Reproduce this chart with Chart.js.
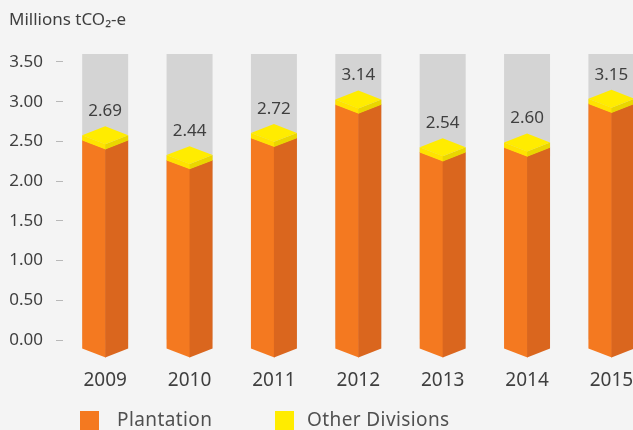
<!DOCTYPE html>
<html>
<head>
<meta charset="utf-8">
<script src="https://cdn.jsdelivr.net/npm/chart.js@4.4.0/dist/chart.umd.min.js"></script>
<style>
  html, body { margin: 0; padding: 0; background: #F4F4F4; overflow: hidden; }
  #wrap { position: relative; width: 680px; height: 430px; }
</style>
</head>
<body>
<div id="wrap"><canvas id="c"></canvas></div>
<script>
// Emissions by year (millions tCO2-e)
const years = ['2009', '2010', '2011', '2012', '2013', '2014', '2015'];
const plantation = [2.63, 2.38, 2.66, 3.08, 2.48, 2.54, 3.09];
const otherDivisions = [0.06, 0.06, 0.06, 0.06, 0.06, 0.06, 0.06];
const yTicks = [0, 0.5, 1, 1.5, 2, 2.5, 3, 3.5];
const yMax = 3.6;

const FONT = '"Noto Sans", "Open Sans", sans-serif';
const TEXT = '#3F3F3F';
const SHADES = {
  track: '#D4D4D4',
  plantLeft: '#F47920',
  plantRight: '#DA661E',
  topFace: '#FFEC00',
  otherLeft: '#FFE300',
  otherRight: '#EAD600'
};

// Front two faces of an isometric prism segment between two pixel heights
function prismFaces(ctx, xl, xc, xr, yTop, yBot, d, left, right) {
  ctx.fillStyle = left;
  ctx.beginPath();
  ctx.moveTo(xl, yTop + d);
  ctx.lineTo(xc + 0.5, yTop + 2 * d);
  ctx.lineTo(xc + 0.5, yBot + 2 * d);
  ctx.lineTo(xl, yBot + d);
  ctx.closePath();
  ctx.fill();
  ctx.fillStyle = right;
  ctx.beginPath();
  ctx.moveTo(xc, yTop + 2 * d);
  ctx.lineTo(xr, yTop + d);
  ctx.lineTo(xr, yBot + d);
  ctx.lineTo(xc, yBot + 2 * d);
  ctx.closePath();
  ctx.fill();
}

const prism3d = {
  id: 'prism3d',
  beforeDatasetDraw() { return false; },
  afterDatasetsDraw(chart) {
    const ctx = chart.ctx;
    const area = chart.chartArea;
    const ds = chart.data.datasets;
    const mP = chart.getDatasetMeta(0);
    const mO = chart.getDatasetMeta(1);
    ctx.save();
    mP.data.forEach((bar, i) => {
      const cap = mO.data[i];
      const hw = bar.width / 2;
      const xc = bar.x, xl = xc - hw, xr = xc + hw;
      const d = hw * 0.39;
      // background track up to the top of the plot
      ctx.fillStyle = SHADES.track;
      ctx.fillRect(xl, area.top, bar.width, bar.base - area.top);
      // plantation body
      prismFaces(ctx, xl, xc, xr, bar.y, bar.base, d, SHADES.plantLeft, SHADES.plantRight);
      // other divisions slab
      prismFaces(ctx, xl, xc, xr, cap.y, cap.base + 0.5, d, SHADES.otherLeft, SHADES.otherRight);
      // top face
      ctx.fillStyle = SHADES.topFace;
      ctx.beginPath();
      ctx.moveTo(xc, cap.y);
      ctx.lineTo(xr, cap.y + d);
      ctx.lineTo(xc, cap.y + 2 * d);
      ctx.lineTo(xl, cap.y + d);
      ctx.closePath();
      ctx.fill();
      // total value
      const total = ds[0].data[i] + ds[1].data[i];
      ctx.fillStyle = TEXT;
      ctx.font = '17px ' + FONT;
      ctx.textAlign = 'center';
      ctx.textBaseline = 'middle';
      ctx.fillText(total.toFixed(2), xc, cap.y - 15);
    });
    ctx.restore();
  },
  afterDraw(chart) {
    // legend row along the bottom
    const ctx = chart.ctx;
    const boxX = [80, 275];
    const textX = [117, 307];
    ctx.save();
    ctx.font = '19px ' + FONT;
    ctx.letterSpacing = '0.4px';
    ctx.textAlign = 'left';
    ctx.textBaseline = 'middle';
    chart.data.datasets.forEach((d, i) => {
      ctx.fillStyle = d.backgroundColor;
      ctx.fillRect(boxX[i], 411, 19, 19);
      ctx.fillStyle = '#505050';
      ctx.fillText(d.label, textX[i], 421);
    });
    ctx.restore();
  }
};

new Chart(document.getElementById('c'), {
  type: 'bar',
  data: {
    labels: years,
    datasets: [
      { label: 'Plantation', data: plantation, backgroundColor: SHADES.plantLeft },
      { label: 'Other Divisions', data: otherDivisions, backgroundColor: SHADES.topFace }
    ]
  },
  options: {
    responsive: true,
    maintainAspectRatio: false,
    animation: false,
    devicePixelRatio: 1,
    categoryPercentage: 1,
    barPercentage: 0.545,
    layout: { padding: { left: 9, right: 26.4, top: 0, bottom: 0 } },
    plugins: {
      legend: { display: false },
      tooltip: { enabled: false },
      title: {
        display: true,
        text: 'Millions tCO\u2082-e',
        align: 'start',
        color: TEXT,
        font: { family: FONT, size: 17, weight: 'normal', lineHeight: 1.2 },
        padding: { top: 9.8, bottom: 23.8 }
      }
    },
    scales: {
      x: {
        stacked: true,
        grid: { display: false },
        border: { display: false },
        ticks: { color: TEXT, font: { family: FONT, size: 19 }, padding: 21 },
        afterFit(scale) { scale.height = 90; }
      },
      y: {
        stacked: true,
        min: 0,
        max: yMax,
        border: { display: false },
        grid: { drawOnChartArea: false, drawTicks: true, tickLength: 7, color: '#B8B8B8' },
        ticks: {
          color: TEXT,
          font: { family: FONT, size: 17 },
          padding: 13,
          callback: v => Number(v).toFixed(2)
        },
        afterBuildTicks(scale) { scale.ticks = yTicks.map(v => ({ value: v })); },
        afterFit(scale) { scale.width = 54; }
      }
    }
  },
  plugins: [prism3d]
});
</script>
</body>
</html>
